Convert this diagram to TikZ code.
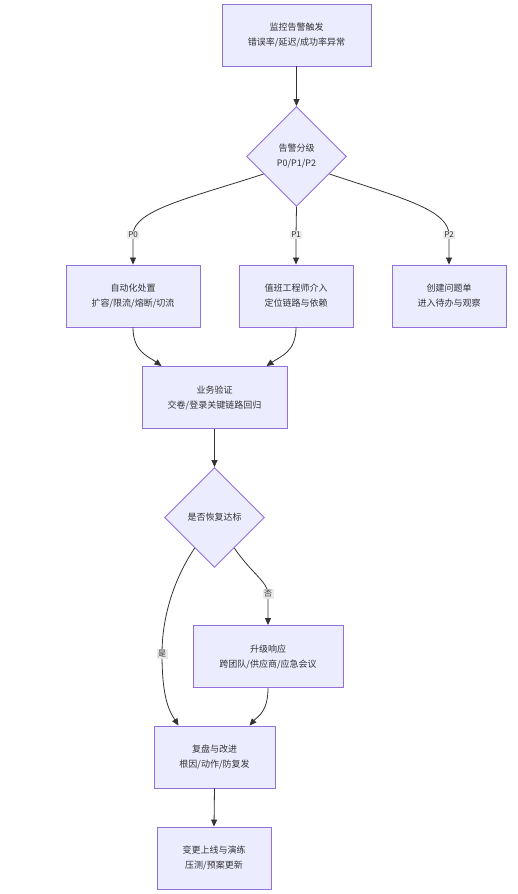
\documentclass[tikz,border=0pt]{standalone}
\usepackage{fontspec}
\setmainfont{Noto Sans CJK SC}
\usetikzlibrary{shapes.geometric,arrows.meta,calc}
\definecolor{nfill}{HTML}{ECECFF}
\definecolor{nstroke}{HTML}{9370DB}
\definecolor{ltxt}{HTML}{333333}
\definecolor{lbg}{HTML}{E8E8E8}
\begin{document}
\begin{tikzpicture}[x=1pt,y=-1pt,
  box/.style={draw=nstroke,fill=nfill,line width=0.9pt,minimum height=62pt,inner sep=0pt,align=center,text=ltxt,font=\fontsize{9}{15}\selectfont},
  dia/.style={draw=nstroke,fill=nfill,line width=0.9pt,shape=diamond,minimum width=100pt,minimum height=100pt,inner sep=0pt,align=center,text=ltxt,font=\fontsize{9}{15}\selectfont},
  conn/.style={draw=ltxt,line width=0.8pt,-{Triangle[length=7pt,width=6pt]}},
  lbl/.style={fill=lbg,fill opacity=0.9,text opacity=1,text=ltxt,inner sep=1.5pt,font=\fontsize{8}{9}\selectfont}]
\useasboundingbox (0,0) rectangle (518,894);
\node[box,minimum width=149pt] (A) at (296.5,35) {监控告警触发\\错误率/延迟/成功率异常};
\node[dia] (B) at (296.5,156.5) {告警分级\\P0/P1/P2};
\node[box,minimum width=134pt] (C) at (133,296) {自动化处置\\扩容/限流/熔断/切流};
\node[box,minimum width=114pt] (D) at (296,296) {值班工程师介入\\定位链路与依赖};
\node[box,minimum width=114pt] (E) at (449,296) {创建问题单\\进入待办与观察};
\node[box,minimum width=145pt] (F) at (214.5,397.5) {业务验证\\交卷/登录关键链路回归};
\node[dia] (G) at (214.5,517.5) {是否恢复达标};
\node[box,minimum width=150pt] (H) at (268,656.5) {升级响应\\跨团队/供应商/应急会议};
\node[box,minimum width=121pt] (I) at (214.5,757) {复盘与改进\\根因/动作/防复发};
\node[box,minimum width=114pt] (J) at (214,858) {变更上线与演练\\压测/预案更新};
\draw[conn] (A.south) -- (B.north);
\draw[conn] (B.208) .. controls (190,198) and (133,210) .. (133,235) node[lbl] (lp0) {P0} -- (C.north);
\draw[conn] (B.south) -- (296,235) node[lbl] (lp1) {P1} -- (D.north);
\draw[conn] (B.332) .. controls (402,198) and (449,210) .. (449,235) node[lbl] (lp2) {P2} -- (E.north);
\draw[conn] (C.south) .. controls (133,352) and (148,356) .. ($(F.north)+(-53,0)$);
\draw[conn] (D.south) .. controls (296,352) and (281,356) .. ($(F.north)+(52,0)$);
\draw[conn] (F.south) -- (G.north);
\draw[conn] (G.303) .. controls (252,574) and (268,582) .. (268,594) node[lbl] (lno) {否} -- (H.north);
\draw[conn] (G.237) .. controls (172,582) and (162,620) .. (162,654) node[lbl] (lyes) {是} .. controls (162,700) and (170,712) .. ($(I.north)+(-36,0)$);
\draw[conn] (H.south) .. controls (268,712) and (258,716) .. ($(I.north)+(35,0)$);
\draw[conn] (I.south) -- (J.north);
\end{tikzpicture}
\end{document}
